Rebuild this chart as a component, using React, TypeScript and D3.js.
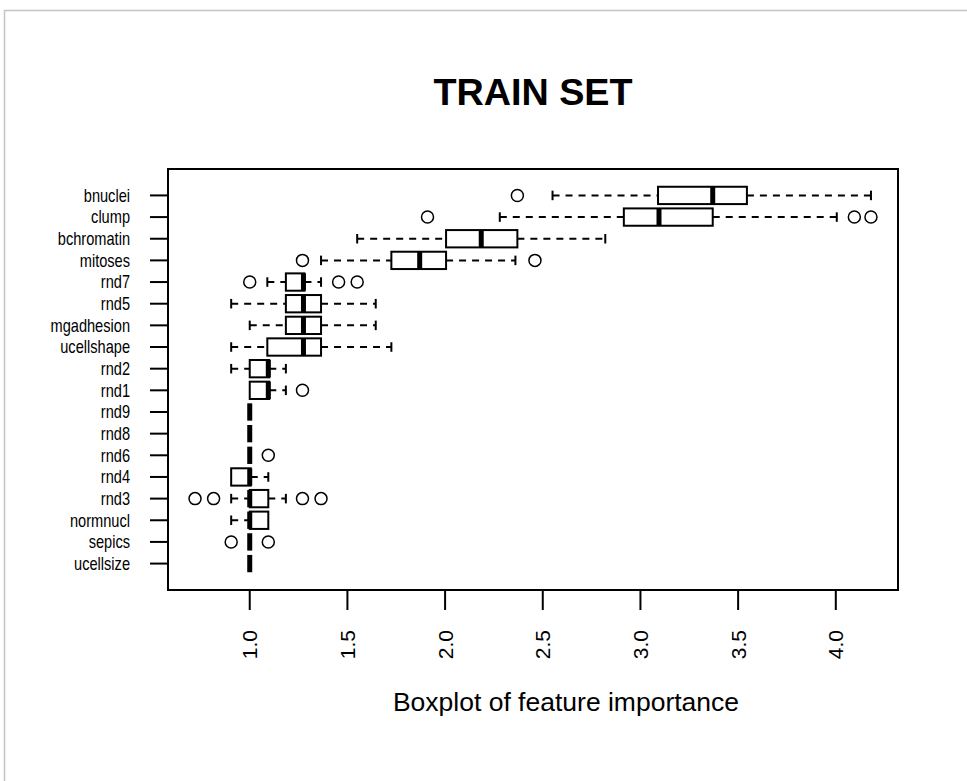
import React from 'react';
import * as d3 from 'd3';

// chart size, same as the window
const width = 967, height = 781;
const margin = { top: 169, right: 69, bottom: 191, left: 168 };

// features, listed from top to bottom as they appear
const features = ['bnuclei', 'clump', 'bchromatin', 'mitoses', 'rnd7', 'rnd5', 'mgadhesion', 'ucellshape',
    'rnd2', 'rnd1', 'rnd9', 'rnd8', 'rnd6', 'rnd4', 'rnd3', 'normnucl', 'sepics', 'ucellsize'];

// five-number summaries
const whiskerLow = [2.55, 2.28, 1.55, 1.365, 1.09, 0.905, 1.0, 0.905, 0.905, 1.0, 1.0, 1.0, 1.0, 0.905, 0.905, 0.905, 1.0, 1.0];
const lowerQuartile = [3.09, 2.915, 2.005, 1.725, 1.185, 1.185, 1.185, 1.09, 1.0, 1.0, 1.0, 1.0, 1.0, 0.905, 1.0, 1.0, 1.0, 1.0];
const medians = [3.37, 3.095, 2.185, 1.87, 1.275, 1.275, 1.275, 1.275, 1.095, 1.095, 1.0, 1.0, 1.0, 1.0, 1.0, 1.0, 1.0, 1.0];
const upperQuartile = [3.545, 3.37, 2.37, 2.005, 1.28, 1.365, 1.365, 1.365, 1.1, 1.1, 1.0, 1.0, 1.0, 1.005, 1.095, 1.095, 1.0, 1.0];
const whiskerHigh = [4.18, 4.005, 2.82, 2.36, 1.365, 1.645, 1.645, 1.725, 1.185, 1.185, 1.0, 1.0, 1.0, 1.095, 1.185, 1.095, 1.0, 1.0];
const outliers = [[2.37], [1.91, 4.095, 4.18], [], [1.27, 2.46], [1.0, 1.455, 1.55], [], [], [],
    [], [1.27], [], [], [1.095], [], [0.72, 0.815, 1.27, 1.365], [], [0.905, 1.095], []];

// x axis tick values
const xTicks = [1.0, 1.5, 2.0, 2.5, 3.0, 3.5, 4.0];

const font = '"Liberation Sans", Arial, sans-serif';

export default function App() {
    const n = features.length;

    // R style range: data extent padded by 4% on each side
    const all = [...whiskerLow, ...whiskerHigh, ...outliers.flat()];
    const [lo, hi] = d3.extent(all) as [number, number];
    const pad = (hi - lo) * 0.04;
    const xScale = d3.scaleLinear().domain([lo - pad, hi + pad])
        .range([margin.left, width - margin.right]);

    // boxes sit at 1..n from the bottom, axis range 0.5..n+0.5 padded 4%
    const yPad = n * 0.04;
    const yScale = d3.scaleLinear().domain([0.5 - yPad, n + 0.5 + yPad])
        .range([height - margin.bottom, margin.top]);
    const pos = (i: number) => yScale(n - i);

    const boxHalf = yScale(0) - yScale(0.4);
    const capHalf = boxHalf * 0.55;
    const x0 = margin.left, x1 = width - margin.right;
    const y0 = margin.top, y1 = height - margin.bottom;
    const cx = (x0 + x1) / 2;

    return (
        <svg width={width} height={height} viewBox={`0 0 ${width} ${height}`}
            style={{ position: 'absolute', left: 0, top: 0, background: '#fff' }}>
            {/* grey outer frame */}
            <rect x={4.5} y={10.5} width={1000} height={1000} fill="none" stroke="#c4c4c4" strokeWidth={1.5} />

            <text x={cx} y={105} textAnchor="middle" fontFamily={font} fontWeight="bold" fontSize={37}
                textLength={199} lengthAdjust="spacingAndGlyphs">TRAIN SET</text>

            {features.map((f, i) => {
                const y = pos(i);
                const q1 = xScale(lowerQuartile[i]), q3 = xScale(upperQuartile[i]);
                const wl = xScale(whiskerLow[i]), wh = xScale(whiskerHigh[i]);
                const med = xScale(medians[i]);
                return (
                    <g key={f}>
                        {/* whiskers */}
                        {wl < q1 && <g>
                            <line x1={wl} x2={q1} y1={y} y2={y} stroke="#000" strokeWidth={2} strokeDasharray="7,6" />
                            <line x1={wl} x2={wl} y1={y - capHalf} y2={y + capHalf} stroke="#000" strokeWidth={2} />
                        </g>}
                        {wh > q3 && <g>
                            <line x1={q3} x2={wh} y1={y} y2={y} stroke="#000" strokeWidth={2} strokeDasharray="7,6" />
                            <line x1={wh} x2={wh} y1={y - capHalf} y2={y + capHalf} stroke="#000" strokeWidth={2} />
                        </g>}
                        {/* box and median */}
                        <rect x={q1} y={y - boxHalf} width={q3 - q1} height={boxHalf * 2}
                            fill="#fff" stroke="#000" strokeWidth={2} />
                        <line x1={med} x2={med} y1={y - boxHalf} y2={y + boxHalf} stroke="#000" strokeWidth={5} />
                        {outliers[i].map((v, j) => (
                            <circle key={j} cx={xScale(v)} cy={y} r={6} fill="none" stroke="#000" strokeWidth={1.5} />
                        ))}
                        {/* y tick and label, slightly taller than wide like the original */}
                        <line x1={x0 - 18} x2={x0} y1={y} y2={y} stroke="#000" strokeWidth={2} />
                        <text transform={`translate(130,${y}) scale(1,1.2)`} dy="0.36em" textAnchor="end"
                            fontFamily={font} fontSize={14.6}>{f}</text>
                    </g>
                );
            })}

            {/* plot frame */}
            <rect x={x0} y={y0} width={x1 - x0} height={y1 - y0} fill="none" stroke="#000" strokeWidth={2} />

            {/* x axis */}
            {xTicks.map(t => (
                <g key={t} transform={`translate(${xScale(t)},0)`}>
                    <line y1={y1} y2={y1 + 20} stroke="#000" strokeWidth={2} />
                    <text transform={`translate(0,630) rotate(-90)`} dy="0.36em" textAnchor="end"
                        fontFamily={font} fontSize={21}>{d3.format('.1f')(t)}</text>
                </g>
            ))}

            <text x={566} y={711} textAnchor="middle" fontFamily={font} fontSize={26.5}>Boxplot of feature importance</text>
        </svg>
    );
}
